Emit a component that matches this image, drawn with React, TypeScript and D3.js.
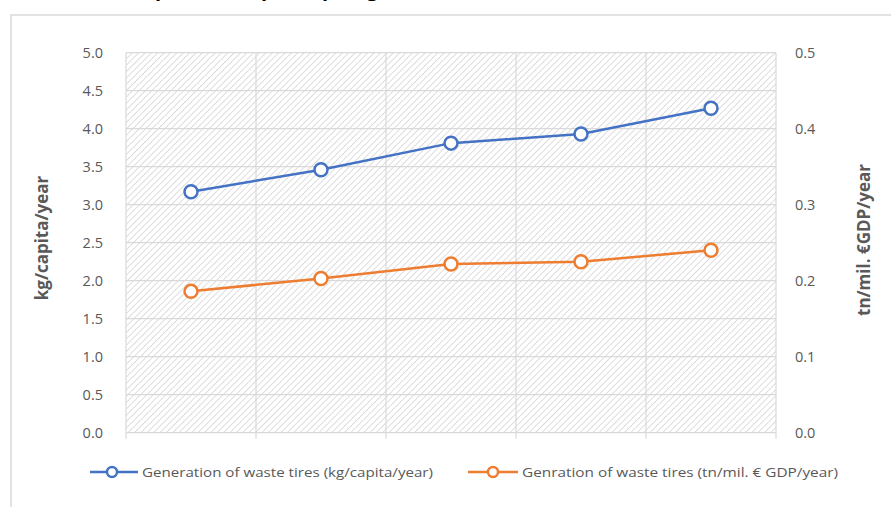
import React from "react";
import * as d3 from "d3";

const categories = ["c1", "c2", "c3", "c4", "c5"];
const perCapita = [3.17, 3.46, 3.81, 3.93, 4.27];
const perGdp = [0.186, 0.203, 0.222, 0.225, 0.240];
const leftTicks = [0, 0.5, 1, 1.5, 2, 2.5, 3, 3.5, 4, 4.5, 5];
const rightTicks = [0, 0.1, 0.2, 0.3, 0.4, 0.5];
const seriesNames = [
  "Generation of waste tires (kg/capita/year)",
  "Genration of waste tires (tn/mil. € GDP/year)",
];
const leftTitle = "kg/capita/year";
const rightTitle = "tn/mil. €GDP/year";
const chartTitle = "Comparison of per capita generation of waste tires, 2014–2018";

const W = 891;
const H = 507;
const plot = { left: 126, right: 776, top: 52.7, bottom: 432.7 };
const blue = "#4472C4";
const orange = "#ED7D31";
const grid = "#d9d9d9";
const textGray = "#595959";

export default function App() {
  const x = d3.scaleBand().domain(categories).range([plot.left, plot.right]);
  const yL = d3.scaleLinear().domain([0, 5]).range([plot.bottom, plot.top]);
  const yR = d3.scaleLinear().domain([0, 0.5]).range([plot.bottom, plot.top]);
  const cx = (c: string) => (x(c) as number) + x.bandwidth() / 2;

  const lineL = d3.line<number>().x((_, i) => cx(categories[i])).y((d) => yL(d));
  const lineR = d3.line<number>().x((_, i) => cx(categories[i])).y((d) => yR(d));

  const boundaries = categories.map((c) => x(c) as number).concat([plot.right]);

  const legend = [
    { color: blue, x0: 90, x1: 138, cx: 112, tx: 142, tw: 291, name: seriesNames[0] },
    { color: orange, x0: 468, x1: 518, cx: 493, tx: 522, tw: 316, name: seriesNames[1] },
  ];
  const legY = 472;

  return (
    <svg
      width={W}
      height={H}
      style={{ position: "absolute", left: 0, top: 0, background: "#fff" }}
      fontFamily="'Open Sans', 'DejaVu Sans', sans-serif"
    >
      <defs>
        <pattern id="hatch" width="4.5" height="4.5" patternUnits="userSpaceOnUse" patternTransform="rotate(45)">
          <rect width="4.5" height="4.5" fill="#ffffff" />
          <line x1="0" y1="0" x2="0" y2="4.5" stroke="#cccccc" strokeWidth="1.3" />
        </pattern>
      </defs>
      <rect x={0} y={0} width={W} height={H} fill="#fff" />
      <text x={420} y={-4} textAnchor="middle" fontWeight="bold" fontSize={20} fill="#000">
        {chartTitle}
      </text>
      <rect x={11} y={15} width={W + 20} height={H + 20} fill="#fff" stroke={grid} strokeWidth={1.5} />

      <rect
        x={plot.left}
        y={plot.top}
        width={plot.right - plot.left}
        height={plot.bottom - plot.top}
        fill="url(#hatch)"
      />
      {leftTicks.map((t) => (
        <line key={"h" + t} x1={plot.left} x2={plot.right} y1={yL(t)} y2={yL(t)} stroke={grid} strokeWidth={1.2} />
      ))}
      {boundaries.map((b, i) => (
        <line key={"v" + i} x1={b} x2={b} y1={plot.top} y2={plot.bottom + 6} stroke={grid} strokeWidth={1.2} />
      ))}

      {leftTicks.map((t) => (
        <text key={"l" + t} x={103} y={yL(t)} dy="0.35em" textAnchor="end" fontSize={14.5} fill={textGray}>
          {d3.format(".1f")(t)}
        </text>
      ))}
      {rightTicks.map((t) => (
        <text key={"r" + t} x={795} y={yR(t)} dy="0.35em" textAnchor="start" fontSize={14.5} fill={textGray}>
          {d3.format(".1f")(t)}
        </text>
      ))}
      <text
        transform={`translate(48,238) rotate(-90)`}
        textAnchor="middle"
        fontWeight="bold"
        fontSize={17}
        fill={textGray}
      >
        {leftTitle}
      </text>
      <text
        transform={`translate(870,240) rotate(-90)`}
        textAnchor="middle"
        fontWeight="bold"
        fontSize={17}
        fill={textGray}
      >
        {rightTitle}
      </text>

      <path d={lineL(perCapita) || ""} fill="none" stroke={blue} strokeWidth={2.5} />
      <path d={lineR(perGdp) || ""} fill="none" stroke={orange} strokeWidth={2.5} />
      {perCapita.map((v, i) => (
        <circle key={"b" + i} cx={cx(categories[i])} cy={yL(v)} r={6.5} fill="#fff" stroke={blue} strokeWidth={2.5} />
      ))}
      {perGdp.map((v, i) => (
        <circle key={"o" + i} cx={cx(categories[i])} cy={yR(v)} r={6.5} fill="#fff" stroke={orange} strokeWidth={2.5} />
      ))}

      {legend.map((l, i) => (
        <g key={"lg" + i}>
          <line x1={l.x0} x2={l.x1} y1={legY} y2={legY} stroke={l.color} strokeWidth={2.5} />
          <circle cx={l.cx} cy={legY} r={5} fill="#fff" stroke={l.color} strokeWidth={2.5} />
          <text
            x={l.tx}
            y={legY}
            dy="0.35em"
            fontSize={13}
            fill={textGray}
            textLength={l.tw}
            lengthAdjust="spacingAndGlyphs"
          >
            {l.name}
          </text>
        </g>
      ))}
    </svg>
  );
}
